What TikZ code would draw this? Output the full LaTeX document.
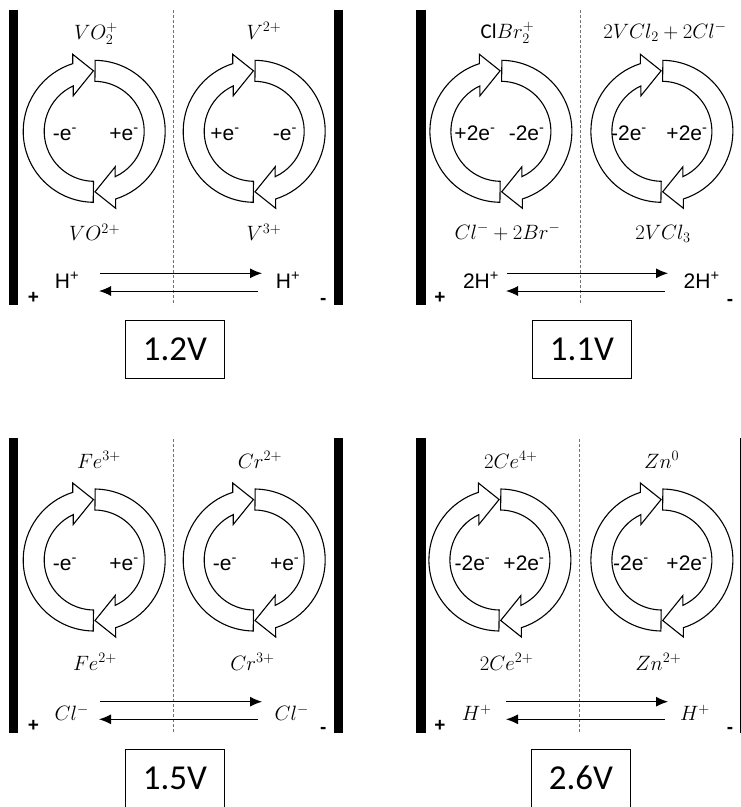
\documentclass[tikz,border=0pt]{standalone}
\usepackage{fontspec}
\setmainfont{Liberation Sans}
\newfontfamily\boxfont{Carlito}
\usetikzlibrary{arrows.meta}
\tikzset{
  bar/.style={fill=black},
  sep/.style={draw=black!55, dash pattern=on 3pt off 2pt, line width=0.9pt},
  cycline/.style={draw=black, line width=1.1pt, fill=white, line join=miter},
  chem/.style={anchor=base, inner sep=0pt, font=\fontsize{21}{25}\selectfont},
  elab/.style={anchor=base, inner sep=0pt, font=\fontsize{21}{25}\selectfont},
  ion/.style={anchor=base, inner sep=0pt, font=\fontsize{21}{25}\selectfont},
  pol/.style={anchor=base, inner sep=0pt, font=\bfseries\fontsize{19}{22}\selectfont},
  vbox/.style={draw=black, line width=1pt, minimum width=98.6pt, minimum height=58pt, inner sep=0pt, font=\boxfont\fontsize{35}{40}\selectfont},
  hx/.style={draw=black, line width=1pt, -{Latex[length=12pt,width=10pt]}},
  halfcyc/.pic={\draw[cycline] (-89.2:71) arc[start angle=-89.2,end angle=72.4,radius=71] -- (21.5,77) -- (0.8,60.5) -- (21,35.5) -- (65.2:50) arc[start angle=65.2,end angle=-89.2,radius=50] -- cycle;},
  redox/.pic={\pic{halfcyc}; \pic[rotate=180]{halfcyc};}
}
\begin{document}
\begin{tikzpicture}[x=1pt,y=-1pt]
\clip (0,0) rectangle (741,807);
\fill[white] (0,0) rectangle (741,807);

% ---------- Panel 1 ----------
\fill[bar] (9,10) rectangle (18,305);
\fill[bar] (334,10) rectangle (343,305);
\draw[sep] (173.3,10) -- (173.3,305);
\pic at (94.2,131.3) {redox};
\pic at (254.2,131.3) {redox};
\node[chem] (p1a) at (96,39) {$VO_2^+$};
\node[chem] (p1b) at (264,39) {$V^{2+}$};
\node[chem] (p1c) at (94.5,240.7) {$VO^{2+}$};
\node[chem] (p1d) at (264,240.7) {$V^{3+}$};
\node[elab] (p1e1) at (65,140) {-e\textsuperscript{-}};
\node[elab] (p1e2) at (124,140) {+e\textsuperscript{-}};
\node[elab] (p1e3) at (225,140) {+e\textsuperscript{-}};
\node[elab] (p1e4) at (285,140) {-e\textsuperscript{-}};
\node[ion] (p1h1) at (67,288.3) {H\textsuperscript{+}};
\node[ion] (p1h2) at (288,288.3) {H\textsuperscript{+}};
\coordinate (p1t1) at (100,273.3);
\coordinate (p1t2) at (262,273.3);
\coordinate (p1r1) at (258,291);
\coordinate (p1r2) at (99,291);
\draw[hx] (p1t1) -- (p1t2);
\draw[hx] (p1r1) -- (p1r2);
\node[pol] (p1plus) at (33.3,303.4) {+};
\node[pol] (p1minus) at (323.3,304.4) {-};
\node[vbox] (v1) at (175,349.2) {1.2V};

% ---------- Panel 2 ----------
\fill[bar] (416,10) rectangle (425.7,305);
\draw[sep] (580.7,10) -- (580.7,305);
\pic at (500.9,131.3) {redox};
\pic at (661.9,131.3) {redox};
\node[chem] (p2a) at (507.5,38.5) {{\boxfont Cl}$Br_2^+$};
\node[chem] (p2b) at (665,38.5) {$2VCl_2+2Cl^-$};
\node[chem] (p2c) at (507.5,239.3) {$Cl^-+2Br^-$};
\node[chem] (p2d) at (663,239.3) {$2VCl_3$};
\node[elab] (p2e1) at (475,140) {+2e\textsuperscript{-}};
\node[elab] (p2e2) at (526.7,140) {-2e\textsuperscript{-}};
\node[elab] (p2e3) at (629,140) {-2e\textsuperscript{-}};
\node[elab] (p2e4) at (687,140) {+2e\textsuperscript{-}};
\node[ion] (p2h1) at (481,288.3) {2H\textsuperscript{+}};
\node[ion] (p2h2) at (701.7,288.3) {2H\textsuperscript{+}};
\coordinate (p2t1) at (506.7,273.3);
\coordinate (p2t2) at (668,273.3);
\coordinate (p2r1) at (665,291);
\coordinate (p2r2) at (506,291);
\draw[hx] (p2t1) -- (p2t2);
\draw[hx] (p2r1) -- (p2r2);
\node[pol] (p2plus) at (440,303.4) {+};
\node[pol] (p2minus) at (730,305) {-};
\node[vbox] (v2) at (582,349.2) {1.1V};

% ---------- Panel 3 ----------
\fill[bar] (9,438.3) rectangle (18,733.3);
\fill[bar] (334,438.3) rectangle (343,733.3);
\draw[sep] (173.3,439) -- (173.3,733.3);
\pic at (94.2,560) {redox};
\pic at (254.2,560) {redox};
\node[chem] (p3a) at (99,468.3) {$Fe^{3+}$};
\node[chem] (p3b) at (260,468.3) {$Cr^{2+}$};
\node[chem] (p3c) at (95,670) {$Fe^{2+}$};
\node[chem] (p3d) at (252.5,670) {$Cr^{3+}$};
\node[elab] (p3e1) at (65,570) {-e\textsuperscript{-}};
\node[elab] (p3e2) at (124,570) {+e\textsuperscript{-}};
\node[elab] (p3e3) at (225,570) {-e\textsuperscript{-}};
\node[elab] (p3e4) at (284.7,570) {+e\textsuperscript{-}};
\node[chem] (p3h1) at (71.7,720.7) {$Cl^-$};
\node[chem] (p3h2) at (291.7,720.7) {$Cl^-$};
\coordinate (p3t1) at (100,701.7);
\coordinate (p3t2) at (262,701.7);
\coordinate (p3r1) at (258,719.3);
\coordinate (p3r2) at (99,719.3);
\draw[hx] (p3t1) -- (p3t2);
\draw[hx] (p3r1) -- (p3r2);
\node[pol] (p3plus) at (33.3,731.7) {+};
\node[pol] (p3minus) at (323.3,733.3) {-};
\node[vbox] (v3) at (175,778.3) {1.5V};

% ---------- Panel 4 ----------
\fill[bar] (416,438.3) rectangle (425.7,733.3);
\fill[bar] (739.6,438.3) rectangle (745,733.3);
\draw[sep] (579.8,439) -- (579.8,733.3);
\pic at (499.9,560) {redox};
\pic at (661.9,560) {redox};
\node[chem] (p4a) at (510.8,468.3) {$2Ce^{4+}$};
\node[chem] (p4b) at (661.7,468.3) {$Zn^0$};
\node[chem] (p4c) at (506.7,670) {$2Ce^{2+}$};
\node[chem] (p4d) at (658.3,670) {$Zn^{2+}$};
\node[elab] (p4e1) at (472.5,570) {-2e\textsuperscript{-}};
\node[elab] (p4e2) at (524,570) {+2e\textsuperscript{-}};
\node[elab] (p4e3) at (631,570) {-2e\textsuperscript{-}};
\node[elab] (p4e4) at (687,570) {+2e\textsuperscript{-}};
\node[chem] (p4h1) at (476.7,720.7) {$H^+$};
\node[chem] (p4h2) at (695,720.7) {$H^+$};
\coordinate (p4t1) at (506,701.7);
\coordinate (p4t2) at (668,701.7);
\coordinate (p4r1) at (665,719.3);
\coordinate (p4r2) at (506,719.3);
\draw[hx] (p4t1) -- (p4t2);
\draw[hx] (p4r1) -- (p4r2);
\node[pol] (p4plus) at (440,731.7) {+};
\node[pol] (p4minus) at (730,733.3) {-};
\node[vbox] (v4) at (581,778.3) {2.6V};
\end{tikzpicture}
\end{document}
